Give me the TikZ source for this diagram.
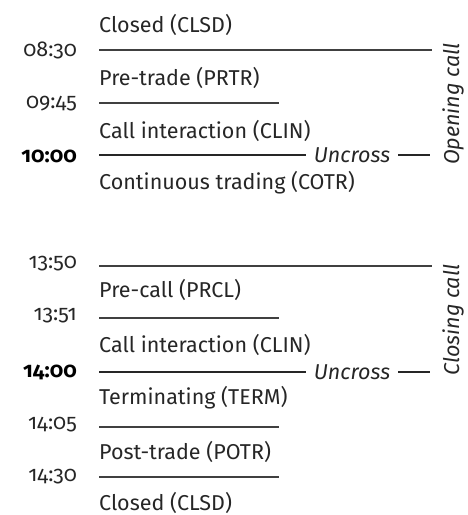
\documentclass[tikz,border=0pt]{standalone}
\usepackage{fontspec}
\setmainfont[Numbers=OldStyle]{Fira Sans}
\newfontfamily\timebold[Numbers=OldStyle]{Fira Sans}
\begin{document}
\begin{tikzpicture}[x=1pt,y=-1pt,
  state/.style={anchor=west,inner sep=0pt,font=\fontsize{21.5}{24}\selectfont,text=black!85},
  timelbl/.style={anchor=east,inner sep=0pt,font=\fontsize{21.5}{24}\selectfont,text=black!85},
  timebig/.style={anchor=east,inner sep=0pt,font=\fontsize{21.5}{24}\timebold\bfseries,text=black},
  side/.style={inner sep=0pt,rotate=90,font=\fontsize{21.5}{24}\itshape,text=black!85},
  unc/.style={inner sep=8pt,font=\fontsize{21.5}{24}\itshape,text=black!85},
  thin/.style={draw=black!75,line width=1.3pt},
  thick/.style={draw=black!85,line width=2.5pt}]
\useasboundingbox (0,0) rectangle (468,515);
% opening
\node[state] (s1) at (99,25) {Closed (CLSD)};
\node[timelbl] (t1) at (77,50) {08:30};
\coordinate (a1) at (99,50); \coordinate (b1) at (432,50);
\draw[thin] (a1) -- (b1);
\node[state] (s2) at (99,78) {Pre-trade (PRTR)};
\node[timelbl] (t2) at (77,104) {09:45};
\coordinate (a2) at (99,103); \coordinate (b2) at (279,103);
\draw[thin] (a2) -- (b2);
\node[state] (s3) at (99,131) {Call interaction (CLIN)};
\node[timebig] (t3) at (77,156) {10:00};
\coordinate (a3) at (99,155); \coordinate (b3) at (430,155);
\node[unc] (u1) at (352,155) {Uncross};
\draw[thick] (a3) -- (u1.west);
\draw[thick] (u1.east) -- (b3);
\node[state] (s4) at (99,183) {Continuous trading (COTR)};
\node[side] (o1) at (453,104) {Opening call};
% closing
\node[timelbl] (t5) at (77,264) {13:50};
\coordinate (a5) at (99,266); \coordinate (b5) at (432,266);
\draw[thin] (a5) -- (b5);
\node[state] (s5) at (99,290) {Pre-call (PRCL)};
\node[timelbl] (t6) at (77,316) {13:51};
\coordinate (a6) at (99,318); \coordinate (b6) at (279,318);
\draw[thin] (a6) -- (b6);
\node[state] (s6) at (99,345) {Call interaction (CLIN)};
\node[timebig] (t7) at (77,372) {14:00};
\coordinate (a7) at (99,372); \coordinate (b7) at (430,372);
\node[unc] (u2) at (352,372) {Uncross};
\draw[thick] (a7) -- (u2.west);
\draw[thick] (u2.east) -- (b7);
\node[state] (s7) at (99,398) {Terminating (TERM)};
\node[timelbl] (t8) at (77,425) {14:05};
\coordinate (a8) at (99,427); \coordinate (b8) at (279,427);
\draw[thin] (a8) -- (b8);
\node[state] (s8) at (99,452) {Post-trade (POTR)};
\node[timelbl] (t9) at (77,477) {14:30};
\coordinate (a9) at (99,477); \coordinate (b9) at (279,477);
\draw[thin] (a9) -- (b9);
\node[state] (s9) at (99,503) {Closed (CLSD)};
\node[side] (o2) at (453,320) {Closing call};
\end{tikzpicture}
\end{document}
